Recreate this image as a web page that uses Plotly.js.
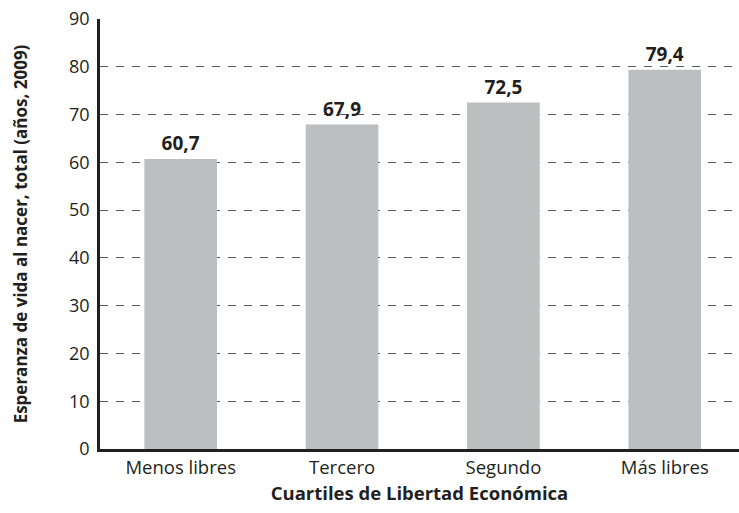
<!DOCTYPE html>
<html>
<head>
<meta charset="utf-8">
<script src="https://cdn.plot.ly/plotly-3.0.1.min.js"></script>
<style>
  body { margin: 0; background: #fff; }
  #myDiv { width: 739px; height: 513px; }
</style>
</head>
<body>
<div id="myDiv"></div>
<script>
  // Quartiles and life expectancy values
  var cuartiles = ["Menos libres", "Tercero", "Segundo", "Más libres"];
  var esperanza = [60.7, 67.9, 72.5, 79.4];
  var yTicks = [0, 10, 20, 30, 40, 50, 60, 70, 80, 90];

  var data = [
    {
      x: cuartiles,
      y: esperanza,
      type: "bar",
      marker: { color: "#bcbec0" },
      texttemplate: "%{y:.1f}",
      textposition: "outside",
      textfont: { family: "Open Sans", size: 19, color: "#231f20", weight: "bold" },
      cliponaxis: false,
      hoverinfo: "x+y",
    },
  ];

  var layout = {
    separators: ",.",
    width: 739,
    height: 513,
    margin: { l: 100, r: 0, t: 19, b: 64 },
    paper_bgcolor: "#ffffff",
    plot_bgcolor: "#ffffff",
    bargap: 0.55,
    showlegend: false,
    font: { family: "Open Sans", color: "#231f20" },
    xaxis: {
      range: [-0.5, 3.46],
      showgrid: false,
      showline: true,
      linecolor: "#231f20",
      linewidth: 2.5,
      ticks: "",
      tickfont: { size: 18.5, color: "#231f20" },
      title: {
        text: "Cuartiles de Libertad Económica",
        font: { size: 18.5, weight: "bold", color: "#231f20" },
        standoff: 10,
      },
    },
    yaxis: {
      range: [0, 90],
      tickvals: yTicks,
      showline: true,
      linecolor: "#231f20",
      linewidth: 2.5,
      showgrid: true,
      gridcolor: "#58595b",
      gridwidth: 1.3,
      griddash: "8px,8px",
      zeroline: false,
      ticks: "outside",
      ticklen: 4,
      tickcolor: "#ffffff",
      tickfont: { size: 18, color: "#231f20" },
      title: {
        text: "Esperanza de vida al nacer, total (años, 2009)",
        font: { size: 17, weight: "bold", color: "#231f20" },
        standoff: 38,
      },
      automargin: false,
    },
  };

  Plotly.newPlot("myDiv", data, layout, { displayModeBar: false });
</script>
</body>
</html>
